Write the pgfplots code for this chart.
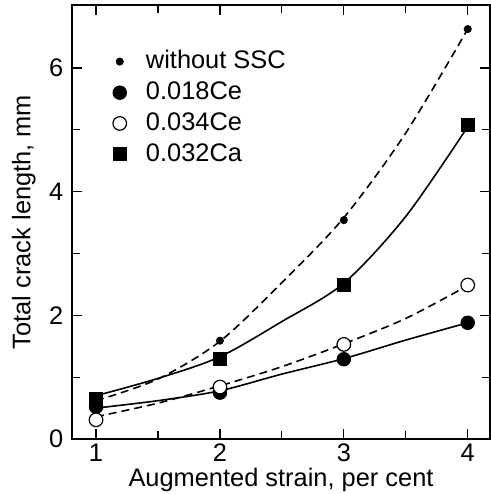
\documentclass[border=0pt]{standalone}
\usepackage{pgfplots}
\pgfplotsset{compat=1.18}
\usepackage{fontspec}
\setmainfont{Liberation Sans}
\begin{document}
\fontsize{12.7}{15}\selectfont
\begin{tikzpicture}
\begin{axis}[
  scale only axis, width=209pt, height=217pt,
  xmin=0.806, xmax=4.18, ymin=0, ymax=7.02,
  xtick={1,2,3,4}, ytick={0,2,4,6},
  minor x tick num=1, minor y tick num=1,
  major tick length=5pt, minor tick length=4pt,
  tick style={black, line width=0.6pt},
  axis line style={line width=0.7pt},
  /pgf/number format/assume math mode=true,
  ticklabel style={font=\fontsize{12.7}{15}\selectfont},
  xticklabel style={yshift=2pt},
  label style={font=\fontsize{12.7}{15}\selectfont},
  xlabel={Augmented strain, per cent},
  ylabel={Total crack length, mm},
  xlabel style={yshift=5.5pt},
  ylabel style={yshift=-2pt},
  legend style={draw=none, fill=none, at={(axis cs:1.085,6.42)}, anchor=north west,
    font=\fontsize{12.7}{15}\selectfont, row sep=0.6pt, legend cell align=left},
  legend image code/.code={\path[draw=none] (-0.1cm,0) -- (0.39cm,0); \draw plot coordinates {(0cm,0cm)};},
]
% fitted curves
\addplot[black, line width=0.8pt, dash pattern=on 4pt off 2.5pt, smooth, forget plot] coordinates
  {(1,0.62) (1.5,0.97) (2,1.58) (2.5,2.53) (3,3.58) (3.5,4.95) (4,6.63)};
\addplot[black, line width=0.8pt, smooth, forget plot] coordinates
  {(1,0.70) (1.5,0.98) (2,1.33) (2.5,1.90) (3,2.52) (3.5,3.60) (4,5.05)};
\addplot[black, line width=0.8pt, smooth, forget plot] coordinates
  {(1,0.50) (1.5,0.62) (2,0.78) (2.5,1.05) (3,1.30) (3.5,1.60) (4,1.88)};
\addplot[black, line width=0.8pt, dash pattern=on 4pt off 2.5pt, smooth, forget plot] coordinates
  {(1,0.36) (1.5,0.58) (2,0.86) (2.5,1.17) (3,1.54) (3.5,1.95) (4,2.48)};
% data points
\addplot[only marks, mark=*, mark size=1.8pt, black] coordinates
  {(1,0.55) (2,1.59) (3,3.54) (4,6.63)};
\addlegendentry{without SSC}
\addplot[only marks, mark=*, mark size=3.4pt, black] coordinates
  {(1,0.52) (2,0.75) (3,1.29) (4,1.88)};
\addlegendentry{0.018Ce}
\addplot[only marks, mark=*, mark size=3.4pt, black, mark options={fill=white, line width=0.6pt}] coordinates
  {(1,0.31) (2,0.84) (3,1.53) (4,2.49)};
\addlegendentry{0.034Ce}
\addplot[only marks, mark=square*, mark size=3.3pt, black] coordinates
  {(1,0.64) (2,1.29) (3,2.49) (4,5.08)};
\addlegendentry{0.032Ca}
\end{axis}
\pgfresetboundingbox
\path (current axis.south west) ++(-36pt,-27.5pt) coordinate (bl);
\path (current axis.north east) ++(0.4pt,2.5pt) coordinate (tr);
\path[use as bounding box] (bl) rectangle (tr);
\end{tikzpicture}
\end{document}
